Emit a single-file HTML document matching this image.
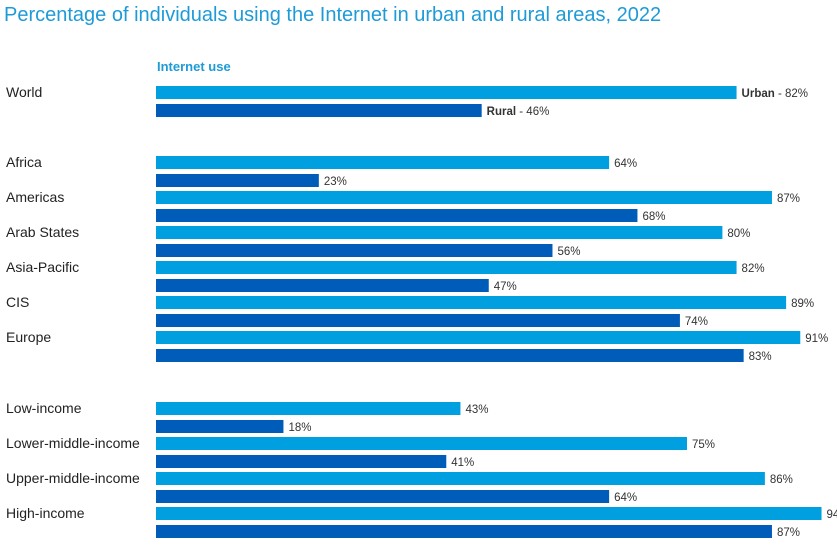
<!DOCTYPE html>
<html><head><meta charset="utf-8"><style>
body{margin:0;background:#fff;width:837px;height:544px;overflow:hidden;font-family:"Liberation Sans",Arial,sans-serif}
</style></head><body>
<svg id="chart" width="837" height="544" xmlns="http://www.w3.org/2000/svg">
<text x="4" y="21" font-size="20" fill="#1e9bd7">Percentage of individuals using the Internet in urban and rural areas, 2022</text>
<text x="157" y="71" font-size="13" font-weight="bold" fill="#1e9bd7">Internet use</text>
<g id="bars"></g>
</svg>
<script>
const categories=["World","Africa","Americas","Arab States","Asia-Pacific","CIS","Europe","Low-income","Lower-middle-income","Upper-middle-income","High-income"];
const urban=[82,64,87,80,82,89,91,43,75,86,94];
const rural=[46,23,68,56,47,74,83,18,41,64,87];
const gapsBefore=[0,1,0,0,0,0,0,1,0,0,0];
const x0=156,scale=7.08,barH=13;
function xs(v){return v*scale;}
function rowTop(i){let extra=0;for(let k=0;k<=i;k++)extra+=gapsBefore[k];return 86+i*35+extra*35+ (i>=7?1:0);}
const g=document.getElementById('bars');
const NS="http://www.w3.org/2000/svg";
function mk(tag,attrs){const e=document.createElementNS(NS,tag);for(const k in attrs)e.setAttribute(k,attrs[k]);return e;}
categories.forEach((c,i)=>{
  const y=rowTop(i);
  const t=mk('text',{x:6,y:y+11,'font-size':14,fill:'#222'});t.textContent=c;
  
  
  g.appendChild(t);
  [[urban[i],'#009fe0',0,'Urban'],[rural[i],'#005cb9',18,'Rural']].forEach(([v,col,off,nm])=>{
    const r=mk('rect',{x:x0,y:y+off,width:xs(v),height:barH,fill:col});
    
    
    g.appendChild(r);
    const l=mk('text',{x:x0+xs(v)+5,y:y+off+11,'font-size':11.5,fill:'#333'});
    
    
    if(i===0){const b=mk('tspan',{'font-weight':'bold'});b.textContent=nm;l.appendChild(b);l.appendChild(document.createTextNode(' -  '+v+'%'));}
    else l.textContent=v+'%';
    g.appendChild(l);
  });
});
</script>
</body></html>
